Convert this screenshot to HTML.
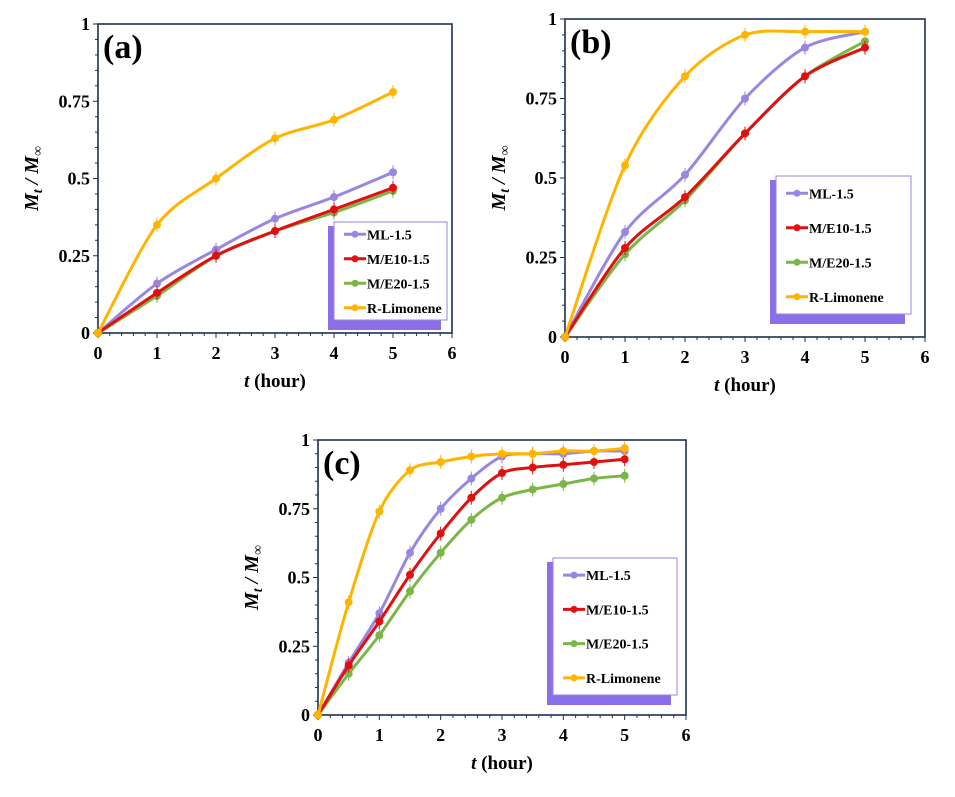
<!DOCTYPE html><html><head><style>body{margin:0;background:#fff}svg{display:block}text{font-family:"Liberation Serif",serif;font-weight:bold}</style></head><body>
<svg id="s" width="955" height="797" xmlns="http://www.w3.org/2000/svg"></svg>
<script>
const S=document.getElementById('s');let h='';
const C={ML:'#9a86e0',E10:'#e01010',E20:'#7ab648',RL:'#ffb400'};
function path(pts){let d='M'+pts[0][0]+','+pts[0][1];for(let i=0;i<pts.length-1;i++){const p0=pts[i-1]||pts[i],p1=pts[i],p2=pts[i+1],p3=pts[i+2]||p2;const t=0.15;d+=` C${p1[0]+(p2[0]-p0[0])*t},${p1[1]+(p2[1]-p0[1])*t} ${p2[0]-(p3[0]-p1[0])*t},${p2[1]-(p3[1]-p1[1])*t} ${p2[0]},${p2[1]}`;}return d;}
function chart(o){const{L,R,T,B}=o;const X=v=>L+(R-L)*v/6,Y=v=>B-(B-T)*v;
h+=`<rect x="${L}" y="${T}" width="${R-L}" height="${B-T}" fill="none" stroke="#1f3050" stroke-width="1.6"/>`;
for(let i=0;i<=30;i++){const x=X(i/5);h+=`<line x1="${x}" y1="${B}" x2="${x}" y2="${B+(i%5?3:5)}" stroke="#1f3050"/>`;}
for(let i=0;i<=20;i++){const y=Y(i/20);h+=`<line x1="${L}" y1="${y}" x2="${L-(i%5?3:5)}" y2="${y}" stroke="#1f3050"/>`;}
for(let i=0;i<=6;i++)h+=`<text x="${X(i)}" y="${B+26}" font-size="18" text-anchor="middle">${i}</text>`;
['0','0.25','0.5','0.75','1'].forEach((t,i)=>h+=`<text x="${L-8}" y="${Y(i/4)+6}" font-size="18" text-anchor="end">${t}</text>`);
h+=`<text x="${(L+R)/2}" y="${B+54}" font-size="19" text-anchor="middle"><tspan font-style="italic">t</tspan> (hour)</text>`;
const my=(T+B)/2;h+=`<text transform="translate(${L-60},${my}) rotate(-90)" font-size="20" text-anchor="middle" font-style="italic">M<tspan font-size="14" dy="4">t</tspan><tspan dy="-4"> / M</tspan><tspan font-size="14" dy="4">∞</tspan></text>`;
h+=`<text x="${L+5}" y="${T+34}" font-size="34">${o.lab}</text>`;
for(const k of ['ML','E20','E10','RL']){const d=o.d[k];const xs=o.xs;const pts=d.map((v,i)=>[X(xs[i]),Y(v)]);
h+=`<path d="${path(pts)}" fill="none" stroke="${C[k]}" stroke-width="3"/>`;pts.forEach((p,i)=>{if(i>0)h+=`<line x1="${p[0]}" y1="${p[1]-7}" x2="${p[0]}" y2="${p[1]+7}" stroke="${C[k]}" stroke-width="1"/>`;h+=`<circle cx="${p[0]}" cy="${p[1]}" r="4" fill="${C[k]}"/>`;});}
const g=o.g;h+=`<rect x="${g[0]-6}" y="${g[1]+4}" width="${g[2]}" height="${g[3]+6}" fill="#8a6fe8"/><rect x="${g[0]}" y="${g[1]}" width="${g[2]}" height="${g[3]}" fill="#fff" stroke="#9a86e0"/>`;
['ML','E10','E20','RL'].forEach((k,i)=>{const y=g[1]+g[3]*(i+0.5)/4;const n=['ML-1.5','M/E10-1.5','M/E20-1.5','R-Limonene'][i];
h+=`<line x1="${g[0]+10}" y1="${y}" x2="${g[0]+32}" y2="${y}" stroke="${C[k]}" stroke-width="3"/><circle cx="${g[0]+21}" cy="${y}" r="3.5" fill="${C[k]}"/><text x="${g[0]+33}" y="${y+5}" font-size="14">${n}</text>`;});}
const x6=[0,1,2,3,4,5];
chart({L:98,R:452,T:24,B:333,lab:'(a)',xs:x6,g:[334,222,113,98],d:{ML:[0,.16,.27,.37,.44,.52],E10:[0,.13,.25,.33,.40,.47],E20:[0,.12,.25,.33,.39,.46],RL:[0,.35,.50,.63,.69,.78]}});
chart({L:565,R:925,T:19,B:337,lab:'(b)',xs:x6,g:[776,176,135,138],d:{ML:[0,.33,.51,.75,.91,.96],E10:[0,.28,.44,.64,.82,.91],E20:[0,.26,.43,.64,.82,.93],RL:[0,.54,.82,.95,.96,.96]}});
const xh=[0,.5,1,1.5,2,2.5,3,3.5,4,4.5,5];
chart({L:318,R:686,T:440,B:715,lab:'(c)',xs:xh,g:[553,558,124,137],d:{ML:[0,.19,.37,.59,.75,.86,.94,.95,.95,.96,.96],E10:[0,.18,.34,.51,.66,.79,.88,.90,.91,.92,.93],E20:[0,.15,.29,.45,.59,.71,.79,.82,.84,.86,.87],RL:[0,.41,.74,.89,.92,.94,.95,.95,.96,.96,.97]}});
S.innerHTML=h;
</script></body></html>
